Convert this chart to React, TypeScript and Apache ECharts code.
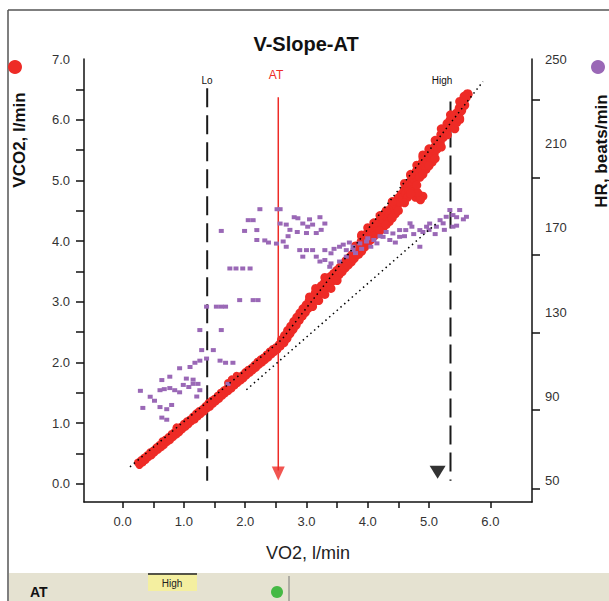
import React, { useEffect, useRef } from 'react';
import * as echarts from 'echarts';

// ---- axis ticks / labels ----
const xTicks = [0, 0.5, 1, 1.5, 2, 2.5, 3, 3.5, 4, 4.5, 5, 6];
const xLabels = [0, 1, 2, 3, 4, 5, 6];
const vco2Ticks = [0, 0.5, 1, 1.5, 2, 2.5, 3, 3.5, 4, 4.5, 5, 5.5, 6, 6.5];
const vco2Labels = [0, 1, 2, 3, 4, 5, 6, 7];
const hrTicks = [46.4, 83.5, 120.2, 157, 193.8, 230.5];
const hrLabels = [50, 90, 130, 170, 210, 250];

// ---- VCO2 vs VO2 (l/min) ----
const vco2LowA = [
  [0.25,0.35],[0.30,0.39],[0.35,0.43],[0.40,0.47],[0.45,0.52],[0.50,0.55],[0.55,0.60],[0.60,0.64],[0.65,0.70],[0.70,0.73],
  [0.75,0.77],[0.80,0.82],[0.85,0.86],[0.90,0.89],[0.95,0.94],[1.00,0.99],[1.05,1.03],[1.10,1.06],[1.15,1.11],[1.20,1.16],
  [1.25,1.20],[1.30,1.23],[1.35,1.28],[1.40,1.33],[1.45,1.37],[1.50,1.40],[1.55,1.45],[1.60,1.50],[1.65,1.54],[1.70,1.57],
  [1.75,1.62],[1.80,1.67],[1.85,1.71],[1.90,1.74],[1.95,1.79],[2.00,1.84],[2.05,1.88],[2.10,1.91],[2.15,1.96],[2.20,2.01],
  [2.25,2.05],[2.30,2.08],[2.35,2.13],[2.40,2.18],[2.45,2.22],[2.50,2.25],[2.55,2.30],[2.60,2.35]
];
const vco2LowB = [
  [0.275,0.31],[0.325,0.35],[0.375,0.39],[0.425,0.44],[0.475,0.47],[0.525,0.52],[0.575,0.56],[0.625,0.60],[0.675,0.64],[0.725,0.69],
  [0.775,0.72],[0.825,0.77],[0.875,0.81],[0.925,0.85],[0.975,0.90],[1.025,0.94],[1.075,0.98],[1.125,1.03],[1.175,1.06],[1.225,1.11],
  [1.275,1.15],[1.325,1.19],[1.375,1.24],[1.425,1.27],[1.475,1.32],[1.525,1.36],[1.575,1.40],[1.625,1.45],[1.675,1.49],[1.725,1.53],
  [1.775,1.57],[1.825,1.62],[1.875,1.66],[1.925,1.70],[1.975,1.74],[2.025,1.79],[2.075,1.83],[2.125,1.87],[2.175,1.91],[2.225,1.96],
  [2.275,2.00],[2.325,2.04],[2.375,2.08],[2.425,2.13],[2.475,2.17],[2.525,2.21],[2.575,2.26],
  [0.88,0.93],[1.72,1.66],[1.78,1.72],[1.86,1.78]
];
const vco2HighA = [
  [2.60,2.37],[2.65,2.44],[2.70,2.52],[2.75,2.59],[2.80,2.67],[2.85,2.74],[2.90,2.81],[2.95,2.88],[3.00,2.94],[3.05,3.01],
  [3.10,3.07],[3.15,3.14],[3.20,3.20],[3.25,3.26],[3.30,3.31],[3.35,3.36],[3.40,3.41],[3.45,3.46],[3.50,3.51],[3.55,3.56],
  [3.60,3.61],[3.65,3.67],[3.70,3.72],[3.75,3.77],[3.80,3.84],[3.85,3.91],[3.90,3.99],[3.95,4.06],[4.00,4.13],[4.05,4.18],
  [4.10,4.23],[4.15,4.28],[4.20,4.33],[4.25,4.38],[4.30,4.43],[4.35,4.49],[4.40,4.56],[4.45,4.63],[4.50,4.70],[4.55,4.76],
  [4.60,4.83],[4.65,4.90],[4.70,4.97],[4.75,5.04],[4.80,5.15],[4.85,5.24],[4.90,5.30],[4.95,5.36],[5.00,5.42],[5.05,5.47],
  [5.10,5.55],[5.15,5.65],[5.20,5.75],[5.25,5.84],[5.30,5.93],[5.35,5.99],[5.40,6.04],[5.45,6.10],[5.50,6.19],[5.55,6.28],
  [5.60,6.37],[5.63,6.42],[5.58,6.38]
];
const vco2HighB = [
  [2.625,2.33],[2.675,2.40],[2.725,2.48],[2.775,2.55],[2.825,2.62],[2.875,2.70],[2.925,2.77],[2.975,2.83],[3.025,2.90],[3.075,2.96],
  [3.125,3.02],[3.175,3.09],[3.225,3.15],[3.275,3.20],[3.325,3.25],[3.375,3.30],[3.425,3.35],[3.475,3.40],[3.525,3.45],[3.575,3.50],
  [3.625,3.56],[3.675,3.61],[3.725,3.66],[3.775,3.72],[3.825,3.79],[3.875,3.87],[3.925,3.94],[3.975,4.01],[4.025,4.07],[4.075,4.12],
  [4.125,4.17],[4.175,4.22],[4.225,4.27],[4.275,4.32],[4.325,4.38],[4.375,4.44],[4.425,4.51],[4.475,4.58],[4.525,4.65],[4.575,4.71],
  [4.625,4.78],[4.675,4.85],[4.725,4.92],[4.775,5.01],[4.825,5.11],[4.875,5.19],[4.925,5.25],[4.975,5.31],[5.025,5.36],[5.075,5.43],
  [5.125,5.52],[5.175,5.62],[5.225,5.71],[5.275,5.80],[5.325,5.88],[5.375,5.93],[5.425,5.99],[5.475,6.06],[5.525,6.15],[5.575,6.24]
];
const vco2Spread = [
  [3.10,2.92],[3.20,3.02],[3.30,3.12],[3.40,3.22],[3.50,3.35],[3.05,3.08],[3.15,3.22],[3.30,3.40],
  [3.85,3.78],[3.95,3.90],[4.05,4.02],[4.15,4.12],[4.25,4.22],[4.35,4.32],[4.45,4.45],[3.90,4.08],[4.10,4.30],[4.30,4.50],
  [4.65,4.72],[4.75,4.85],[4.85,5.05],[4.95,5.18],[5.05,5.30],[4.70,5.08],[4.80,5.25],[4.90,5.38],[5.00,5.50],
  [4.78,4.72],[4.84,4.76],[4.90,4.74],[4.86,4.68],[4.76,4.82],[4.81,4.80],
  [5.30,5.85],[5.38,5.90],[5.45,5.95],[5.50,6.00],[5.42,5.85],
  [3.90,3.83],[4.00,3.97],[4.10,4.08],[4.20,4.17],[4.30,4.27],[4.40,4.38],[4.50,4.50],[4.60,4.63],[4.70,4.78],[4.80,4.92],
  [4.90,5.10],[5.00,5.24],[5.10,5.36],[5.20,5.55],[5.30,5.75],[5.40,5.90],[5.50,6.02],
  [3.80,3.92],[3.90,4.10],[4.00,4.22],[4.20,4.42],[4.40,4.65],[4.60,4.95],[4.70,5.10],[4.90,5.42],[5.00,5.52],[5.10,5.66],
  [5.20,5.85],[5.35,6.08],[5.50,6.30]
];

// ---- HR vs VO2 ----
const hrPoints = [
  [0.29,92.7],[0.33,84.6],[0.45,89.9],[0.52,88],[0.61,93],[0.68,93.5],[0.77,94],[0.85,93],[0.93,92],[0.61,85],
  [0.72,84],[0.8,86],[0.64,80],[0.72,79],[0.64,97.8],[0.77,99.4],[0.93,103.4],[0.99,95.5],[1.08,94.5],[1.15,96],
  [1.1,104],[1.18,106],[1.26,107],[1.04,98.5],[1.15,98],[1.21,90],[1.26,93],[1.23,96],[1.29,112],[1.37,108],
  [1.48,112],[1.26,121.5],[1.61,121.5],[1.59,107],[1.68,106],[1.8,106],[1.72,96],[1.37,132.6],[1.53,132.6],[1.61,132.6],
  [1.68,132.6],[1.91,135.7],[2.13,135.7],[2.21,135.7],[1.75,150.7],[1.85,150.7],[1.96,150.7],[2.08,150.7],[1.61,168.5],[1.99,168.5],
  [2.05,173.6],[2.13,173.6],[2.19,168.9],[2.19,164.2],[2.24,178.8],[2.32,164],[2.38,163],[2.51,162.5],[2.62,163.5],[2.67,161],
  [2.52,178.8],[2.57,178.8],[2.57,172],[2.67,171.5],[2.73,169],[2.8,175],[2.86,174.5],[2.94,172],[3.02,170.5],[3.1,171.5],
  [3.22,175],[3.0,167.5],[3.16,167.5],[3.24,169],[2.89,159.4],[2.94,156.3],[3.0,159.4],[3.1,159.4],[3.16,156.3],[3.22,154],
  [3.3,159.4],[3.4,157.9],[3.54,161],[3.65,159.4],[3.76,159.4],[3.3,154.7],[3.4,153.1],[3.54,154],[3.65,156.3],[3.38,151.5],
  [3.76,161],[3.87,162.6],[3.98,163.5],[4.1,164.2],[4.15,162.6],[4.25,165.7],[4.36,164.2],[4.41,167.3],[4.52,165.7],[4.62,168.9],
  [4.72,170.5],[4.85,168.9],[4.96,170.5],[4.52,168.9],[4.69,172.1],[4.85,161],[5.01,172],[5.12,170.5],[5.23,172.1],[5.28,175.2],
  [5.34,178.4],[5.39,176],[5.5,178.4],[5.61,175.2],[5.39,170.5],[5.45,171],[5.18,173.6],
  [3.45,160],[3.6,162],[3.7,163],[3.8,158],[3.9,160],[4.0,165],[4.05,161],[4.2,166],[4.3,168],[4.45,163],
  [4.6,166],[4.75,167],[4.9,168],[5.0,169],[5.1,167],[5.25,169],[5.45,175],[5.56,174],[2.7,166],[2.85,168],
  [3.05,174],[3.3,172]
];

// ---- fit lines / markers (data units) ----
const upperFit = [[0.12, 0.28], [2.6, 2.38], [5.88, 6.63]];
const lowerFit = [[2.02, 1.55], [5.12, 4.29]];
const loLine = [[1.38, 6.52], [1.38, 0.05]];
const highLine = [[5.35, 6.3], [5.35, 0.05]];
const atLine = [[2.54, 6.37], [2.54, 0.22]];
const atArrow = [[2.54, 0.17]];
const rcpMarker = [[5.14, 0.19]];

const RED = '#ee2b26';
const PURPLE = '#9a68b6';
const FONT = '"Liberation Sans", Arial, sans-serif';

export default function App() {
  const ref = useRef<HTMLDivElement>(null);

  useEffect(() => {
    if (!ref.current) return;
    const chart = echarts.init(ref.current, undefined, { renderer: 'svg' });
    const fmt1 = (v: number) => v.toFixed(1);
    const option: any = {
      animation: false,
      backgroundColor: '#ffffff',
      textStyle: { fontFamily: FONT },
      grid: { left: 84, right: 77, top: 59, bottom: 99, containLabel: false, outerBoundsMode: 'none' },
      xAxis: {
        type: 'value',
        min: -0.63,
        max: 6.68,
        axisLine: { onZero: false, lineStyle: { color: '#111', width: 1.5 } },
        axisTick: { customValues: xTicks, length: 6, lineStyle: { color: '#111', width: 1.5 } },
        axisLabel: { customValues: xLabels, formatter: fmt1, margin: 13, fontSize: 13, color: '#333', fontFamily: FONT },
        splitLine: { show: false },
        name: 'VO2, l/min',
        nameLocation: 'middle',
        nameGap: 42,
        nameTextStyle: { fontSize: 18, color: '#222', fontFamily: FONT },
      },
      yAxis: [
        {
          type: 'value',
          position: 'left',
          min: -0.3,
          max: 7.0,
          axisLine: { show: true, onZero: false, lineStyle: { color: '#111', width: 1.5 } },
          axisTick: { show: true, customValues: vco2Ticks, length: 8, lineStyle: { color: '#111', width: 1.5 } },
          axisLabel: { customValues: vco2Labels, formatter: fmt1, margin: 14, fontSize: 13, color: '#333', fontFamily: FONT },
          splitLine: { show: false },
        },
        {
          type: 'value',
          position: 'right',
          min: 40,
          max: 250,
          axisLine: { show: true, onZero: false, lineStyle: { color: '#111', width: 1.5 } },
          axisTick: { show: true, customValues: hrTicks, length: 8, lineStyle: { color: '#111', width: 1.5 } },
          axisLabel: { customValues: hrLabels, margin: 13, fontSize: 13, color: '#333', fontFamily: FONT },
          splitLine: { show: false },
        },
      ],
      series: [
        {
          type: 'line', data: loLine, symbol: 'none', silent: true, z: 1,
          lineStyle: { color: '#1a1a1a', width: 2, type: [19, 8] },
        },
        {
          type: 'line', data: highLine, symbol: 'none', silent: true, z: 1,
          lineStyle: { color: '#1a1a1a', width: 2, type: [19, 8] },
        },
        {
          type: 'line', data: atLine, symbol: 'none', silent: true, z: 1,
          lineStyle: { color: RED, width: 1.5, type: 'solid' },
        },
        {
          type: 'scatter', data: atArrow, symbol: 'triangle', symbolRotate: 180, symbolSize: [13, 14],
          itemStyle: { color: RED }, z: 2,
        },
        {
          type: 'scatter', data: rcpMarker, symbol: 'triangle', symbolRotate: 180, symbolSize: [16, 13],
          itemStyle: { color: '#000' }, z: 2,
        },
        { type: 'scatter', data: vco2LowA, symbolSize: 8, itemStyle: { color: RED, opacity: 1 }, z: 3 },
        { type: 'scatter', data: vco2LowB, symbolSize: 8, itemStyle: { color: RED, opacity: 1 }, z: 3 },
        { type: 'scatter', data: vco2HighA, symbolSize: 10, itemStyle: { color: RED, opacity: 1 }, z: 3 },
        { type: 'scatter', data: vco2HighB, symbolSize: 10, itemStyle: { color: RED, opacity: 1 }, z: 3 },
        { type: 'scatter', data: vco2Spread, symbolSize: 9, itemStyle: { color: RED, opacity: 1 }, z: 3 },
        {
          type: 'scatter', yAxisIndex: 1, data: hrPoints, symbol: 'rect', symbolSize: [5, 4],
          itemStyle: { color: PURPLE, opacity: 1 }, z: 4,
        },
        {
          type: 'line', data: upperFit, symbol: 'none', silent: true, z: 5,
          lineStyle: { color: '#000', width: 1.5, type: [1.5, 3.5] },
        },
        {
          type: 'line', data: lowerFit, symbol: 'none', silent: true, z: 5,
          lineStyle: { color: '#000', width: 1.5, type: [1.5, 3.5] },
        },
      ],
      graphic: [
        { type: 'line', shape: { x1: 8, y1: 10, x2: 609, y2: 10 }, style: { stroke: '#555', lineWidth: 1.5 } },
        { type: 'line', shape: { x1: 8, y1: 10, x2: 8, y2: 601 }, style: { stroke: '#555', lineWidth: 1.5 } },
        {
          type: 'text', x: 306, y: 44,
          style: { text: 'V-Slope-AT', fontSize: 20, fontWeight: 'bold', fill: '#111', textAlign: 'center', textVerticalAlign: 'middle', fontFamily: FONT },
        },
        { type: 'circle', shape: { cx: 15, cy: 67, r: 7 }, style: { fill: RED } },
        { type: 'circle', shape: { cx: 598, cy: 67, r: 7 }, style: { fill: PURPLE } },
        {
          type: 'text', x: 19, y: 140, rotation: Math.PI / 2,
          style: { text: 'VCO2, l/min', fontSize: 17, fontWeight: 'bold', fill: '#111', textAlign: 'center', textVerticalAlign: 'middle', fontFamily: FONT },
        },
        {
          type: 'text', x: 601, y: 151, rotation: Math.PI / 2,
          style: { text: 'HR, beats/min', fontSize: 17, fontWeight: 'bold', fill: '#111', textAlign: 'center', textVerticalAlign: 'middle', fontFamily: FONT },
        },
        {
          type: 'text', x: 207, y: 80,
          style: { text: 'Lo', fontSize: 10, fill: '#111', textAlign: 'center', textVerticalAlign: 'middle', fontFamily: FONT },
        },
        {
          type: 'text', x: 276, y: 75,
          style: { text: 'AT', fontSize: 12, fill: RED, textAlign: 'center', textVerticalAlign: 'middle', fontFamily: FONT },
        },
        {
          type: 'text', x: 442, y: 80,
          style: { text: 'High', fontSize: 10, fill: '#111', textAlign: 'center', textVerticalAlign: 'middle', fontFamily: FONT },
        },
        // bottom status band
        { type: 'rect', shape: { x: 9, y: 573, width: 600, height: 28 }, style: { fill: '#e5e2d1' } },
        {
          type: 'text', x: 30, y: 592,
          style: { text: 'AT', fontSize: 14, fontWeight: 'bold', fill: '#111', textAlign: 'left', textVerticalAlign: 'middle', fontFamily: FONT },
        },
        { type: 'rect', shape: { x: 148, y: 574, width: 49, height: 17 }, style: { fill: '#f4efa0' } },
        { type: 'line', shape: { x1: 148, y1: 574, x2: 197, y2: 574 }, style: { stroke: '#222', lineWidth: 1.5 } },
        {
          type: 'text', x: 172, y: 583,
          style: { text: 'High', fontSize: 10, fill: '#222', textAlign: 'center', textVerticalAlign: 'middle', fontFamily: FONT },
        },
        { type: 'circle', shape: { cx: 277, cy: 592, r: 6 }, style: { fill: '#45b945' } },
        { type: 'line', shape: { x1: 289, y1: 576, x2: 289, y2: 601 }, style: { stroke: '#777', lineWidth: 1 } },
      ],
    };
    chart.setOption(option);
    return () => chart.dispose();
  }, []);

  return (
    <div
      ref={ref}
      style={{ position: 'absolute', left: 0, top: 0, width: 609, height: 601, background: '#fff' }}
    />
  );
}
